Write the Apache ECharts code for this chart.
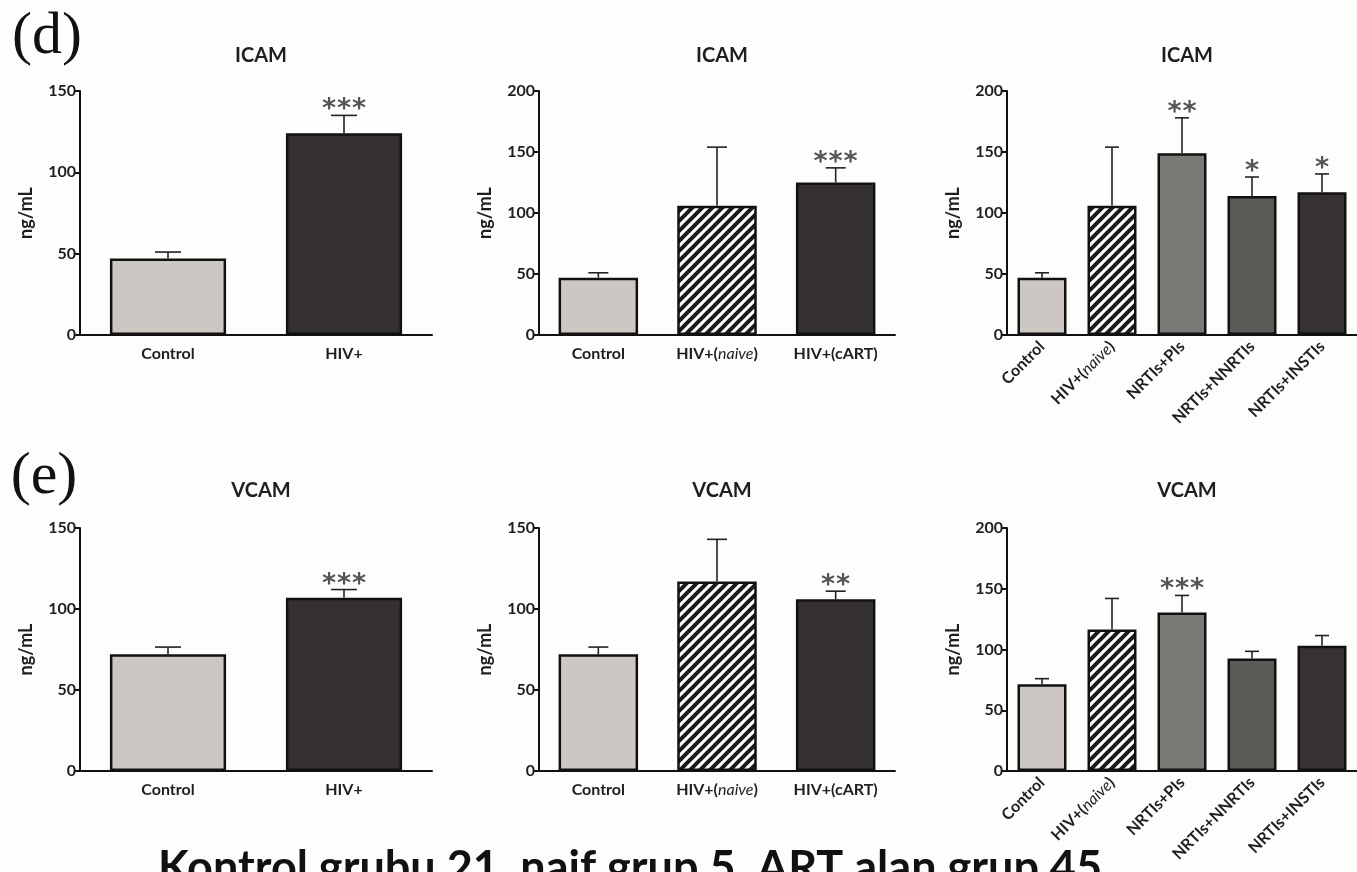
<!DOCTYPE html>
<html><head><meta charset="utf-8">
<script src="https://cdn.jsdelivr.net/npm/echarts@6/dist/echarts.min.js"></script>
<style>html,body{margin:0;padding:0;background:#fdfdfb}#c{width:1357px;height:872px}</style>
</head><body><div id="c"></div>
<script>
// ---------------- DATA ----------------
const catsTwo = ['Control', 'HIV+'];
const catsThree = ['Control', 'HIV+(naive)', 'HIV+(cART)'];
const catsFive = ['Control', 'HIV+(naive)', 'NRTIs+PIs', 'NRTIs+NNRTIs', 'NRTIs+INSTIs'];

const ticks150 = [0, 50, 100, 150];
const ticks200 = [0, 50, 100, 150, 200];

const icamTwoMean = [47, 124];
const icamTwoSem = [4, 11];
const icamTwoSig = ['', '***'];

const icamThreeMean = [47, 106, 125];
const icamThreeSem = [4, 48, 12];
const icamThreeSig = ['', '', '***'];

const icamFiveMean = [47, 106, 149, 114, 117];
const icamFiveSem = [4, 48, 29, 15.5, 15];
const icamFiveSig = ['', '', '**', '*', '*'];

const vcamTwoMean = [72, 107];
const vcamTwoSem = [4.5, 5];
const vcamTwoSig = ['', '***'];

const vcamThreeMean = [72, 117, 106];
const vcamThreeSem = [4.5, 26, 5];
const vcamThreeSig = ['', '', '**'];

const vcamFiveMean = [71.5, 116.5, 130.5, 92.5, 103];
const vcamFiveSem = [4.5, 25.5, 14, 6, 8.5];
const vcamFiveSig = ['', '', '***', '', ''];

const panelTitles = ['ICAM', 'ICAM', 'ICAM', 'VCAM', 'VCAM', 'VCAM'];
const panelLetters = ['(d)', '(e)'];
const yAxisName = 'ng/mL';
const footnote = 'Kontrol grubu 21, naif grup 5, ART alan grup 45';

// ---------------- STYLE / LAYOUT ----------------
const FONT = 'Lato';
const INK = '#1e1e1e';

function hatch() {
  const s = 10;
  const cv = document.createElement('canvas');
  cv.width = s; cv.height = s;
  const ctx = cv.getContext('2d');
  ctx.fillStyle = '#ffffff';
  ctx.fillRect(0, 0, s, s);
  ctx.strokeStyle = '#1a1a1a';
  ctx.lineWidth = 4;
  ctx.lineCap = 'square';
  [-s, 0, s].forEach(x0 => {
    ctx.beginPath(); ctx.moveTo(x0, s); ctx.lineTo(x0 + s, 0); ctx.stroke();
  });
  return { image: cv, repeat: 'repeat' };
}
const HATCH = hatch();
const groupFill = {
  'Control': '#cdc7c4',
  'HIV+': '#343030',
  'HIV+(naive)': HATCH,
  'HIV+(cART)': '#343030',
  'NRTIs+PIs': '#7a7975',
  'NRTIs+NNRTIs': '#5d5b58',
  'NRTIs+INSTIs': '#363231'
};

const panels = [
  { cats: catsTwo, mean: icamTwoMean, sem: icamTwoSem, sig: icamTwoSig, ticks: ticks150,
    grid: { left: 80, top: 91, width: 352, height: 244 }, barWidth: '66%', cap: 13, rotate: 0 },
  { cats: catsThree, mean: icamThreeMean, sem: icamThreeSem, sig: icamThreeSig, ticks: ticks200,
    grid: { left: 539, top: 91, width: 356, height: 244 }, barWidth: '67%', cap: 10, rotate: 0 },
  { cats: catsFive, mean: icamFiveMean, sem: icamFiveSem, sig: icamFiveSig, ticks: ticks200,
    grid: { left: 1007, top: 91, width: 350, height: 244 }, barWidth: '70%', cap: 7, rotate: 45 },
  { cats: catsTwo, mean: vcamTwoMean, sem: vcamTwoSem, sig: vcamTwoSig, ticks: ticks150,
    grid: { left: 80, top: 528, width: 352, height: 243 }, barWidth: '66%', cap: 13, rotate: 0 },
  { cats: catsThree, mean: vcamThreeMean, sem: vcamThreeSem, sig: vcamThreeSig, ticks: ticks150,
    grid: { left: 539, top: 528, width: 356, height: 243 }, barWidth: '67%', cap: 10, rotate: 0 },
  { cats: catsFive, mean: vcamFiveMean, sem: vcamFiveSem, sig: vcamFiveSig, ticks: ticks200,
    grid: { left: 1007, top: 528, width: 350, height: 243 }, barWidth: '70%', cap: 7, rotate: 45 }
];

function catFormatter(v) {
  if (v === 'HIV+(naive)') return '{b|HIV+(}{i|naive}{b|)}';
  return '{b|' + v + '}';
}

const option = {
  backgroundColor: '#fdfdfb',
  animation: false,
  title: [], grid: [], xAxis: [], yAxis: [], series: [],
  graphic: []
};

panels.forEach((p, k) => {
  option.grid.push(p.grid);
  option.title.push({
    text: panelTitles[k],
    left: p.grid.left + p.grid.width / 2,
    top: k < 3 ? 41 : 476,
    textAlign: 'center',
    textStyle: { fontFamily: FONT, fontWeight: 'bold', fontSize: 20, color: INK }
  });
  const lblSize = p.rotate ? 16 : 16;
  option.xAxis.push({
    type: 'category', gridIndex: k, data: p.cats,
    axisLine: { lineStyle: { color: '#111', width: 2 } },
    axisTick: { alignWithLabel: true, length: 6, lineStyle: { color: '#111', width: 2 } },
    axisLabel: {
      interval: 0, rotate: p.rotate, margin: p.rotate ? 9 : 11,
      formatter: catFormatter,
      rich: {
        b: { fontFamily: FONT, fontWeight: 'bold', fontSize: lblSize, color: INK },
        i: { fontFamily: FONT, fontStyle: 'italic', fontWeight: 'normal', fontSize: lblSize, color: INK }
      }
    },
    splitLine: { show: false }
  });
  option.yAxis.push({
    type: 'value', gridIndex: k,
    min: p.ticks[0], max: p.ticks[p.ticks.length - 1], interval: p.ticks[1] - p.ticks[0],
    name: yAxisName, nameLocation: 'middle', nameRotate: 90, nameGap: 45,
    nameTextStyle: { fontFamily: FONT, fontWeight: 'bold', fontSize: 18, color: INK },
    axisLine: { show: true, lineStyle: { color: '#111', width: 2 } },
    axisTick: { show: true, length: 6, lineStyle: { color: '#111', width: 2 } },
    axisLabel: { fontFamily: FONT, fontWeight: 'bold', fontSize: 16, color: INK, margin: 4 },
    splitLine: { show: false }
  });
  option.series.push({
    type: 'bar', xAxisIndex: k, yAxisIndex: k, barWidth: p.barWidth, z: 2,
    data: p.mean.map((v, i) => ({
      value: v,
      itemStyle: { color: groupFill[p.cats[i]], borderColor: '#111', borderWidth: 2.5 }
    }))
  });
  option.series.push({
    type: 'custom', xAxisIndex: k, yAxisIndex: k, z: 5,
    encode: { x: 0, y: [1, 2] },
    data: p.mean.map((v, i) => [i, v, v + p.sem[i]]),
    renderItem: function (params, api) {
      const c = api.value(0);
      const a = api.coord([c, api.value(1)]);
      const b = api.coord([c, api.value(2)]);
      const st = { stroke: '#222', lineWidth: 1.6 };
      const children = [
        { type: 'line', shape: { x1: a[0], y1: a[1], x2: b[0], y2: b[1] }, style: st },
        { type: 'line', shape: { x1: b[0] - p.cap, y1: b[1], x2: b[0] + p.cap, y2: b[1] }, style: st }
      ];
      const s = p.sig[params.dataIndex] || '';
      const n = s.length;
      for (let j = 0; j < n; j++) {
        children.push({
          type: 'text',
          x: b[0] + (j - (n - 1) / 2) * 15,
          y: b[1] - 5,
          style: { text: '*', fontFamily: 'DejaVu Sans', fontWeight: 'bold', fontSize: 27, fill: '#555',
                   align: 'center', verticalAlign: 'middle' }
        });
      }
      return { type: 'group', children: children };
    }
  });
});

option.graphic.push(
  { type: 'text', x: 47, y: 37, style: { text: panelLetters[0], fontFamily: 'Liberation Serif', fontSize: 60, fill: '#111', align: 'center', verticalAlign: 'middle' } },
  { type: 'text', x: 44, y: 477, style: { text: panelLetters[1], fontFamily: 'Liberation Serif', fontSize: 60, fill: '#111', align: 'center', verticalAlign: 'middle' } },
  { type: 'text', x: 630, y: 868, z: 10, style: { text: footnote, fontFamily: FONT, fontWeight: 'bold', fontSize: 45, fill: '#111', align: 'center', verticalAlign: 'middle' } }
);

const chart = echarts.init(document.getElementById('c'), null, { renderer: 'canvas' });
chart.setOption(option);
</script>
</body></html>
